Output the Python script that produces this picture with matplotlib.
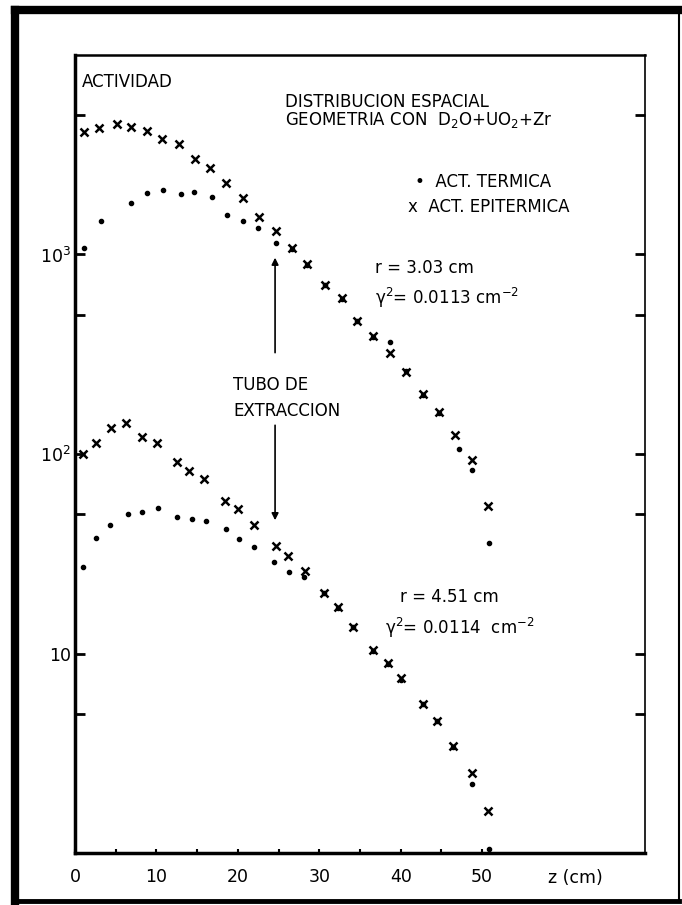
import matplotlib
matplotlib.use("Agg")
import matplotlib.pyplot as plt
from matplotlib.lines import Line2D

# upper pair of curves, r = 3.03 cm
z_epi_up = [1.1, 2.9, 5.2, 6.9, 8.8, 10.7, 12.8, 14.7, 16.6, 18.5, 20.6, 22.6, 24.7,
            26.6, 28.5, 30.7, 32.8, 34.6, 36.6, 38.7, 40.6, 42.7, 44.7, 46.7, 48.8, 50.7]
a_epi_up = [4110, 4310, 4510, 4350, 4160, 3790, 3580, 3010, 2720, 2280, 1920, 1540, 1310,
            1080, 896, 703, 605, 465, 390, 321, 258, 200, 163, 124, 93, 55]
z_th_up = [1.1, 3.2, 6.9, 8.8, 10.8, 13.0, 14.6, 16.8, 18.7, 20.6, 22.5, 24.7,
           26.6, 28.5, 30.7, 32.8, 34.6, 36.6, 38.7, 40.6, 42.7, 44.7, 47.1, 48.8, 50.8]
a_th_up = [1080, 1470, 1810, 2030, 2100, 2010, 2060, 1940, 1580, 1470, 1360, 1140,
           1070, 890, 700, 600, 462, 388, 364, 262, 198, 161, 106, 83, 36]

# lower pair of curves, r = 4.51 cm
z_epi_lo = [1.0, 2.6, 4.4, 6.3, 8.2, 10.1, 12.5, 14.0, 15.8, 18.4, 20.0, 22.0, 24.7,
            26.1, 28.2, 30.6, 32.3, 34.1, 36.6, 38.4, 40.0, 42.7, 44.4, 46.4, 48.7, 50.7]
a_epi_lo = [100, 114, 135, 143, 122, 114, 91, 82, 75, 58, 53, 44, 34.6,
            30.8, 25.9, 20.1, 17.1, 13.6, 10.4, 8.96, 7.53, 5.58, 4.59, 3.44, 2.52, 1.63]
z_th_lo = [1.0, 2.6, 4.3, 6.5, 8.2, 10.2, 12.5, 14.4, 16.1, 18.5, 20.2, 22.0, 24.4,
           26.3, 28.1, 30.6, 32.3, 34.1, 36.6, 38.4, 40.0, 42.7, 44.4, 46.4, 48.8, 50.8]
a_th_lo = [27.2, 37.9, 44, 50, 51.2, 53.6, 48.3, 47.2, 46.1, 42, 37.5, 34.2, 28.8,
           25.6, 24.2, 20.0, 17.0, 13.5, 10.3, 8.9, 7.4, 5.6, 4.6, 3.4, 2.22, 1.05]

x_ticks = [0, 10, 20, 30, 40, 50]
x_minor = [5, 15, 25, 35, 45]
y_ticks = [1e3, 1e2, 10]
y_labels = ["$10^3$", "$10^2$", "10"]
y_minor = [5e3, 5e2, 50, 5]

W, H = 682, 905
fig = plt.figure(figsize=(W / 100, H / 100), dpi=100)
ax = fig.add_axes([75 / W, 52 / H, 570 / W, 798 / H])

for z, a in [(z_epi_up, a_epi_up), (z_epi_lo, a_epi_lo)]:
    ax.plot(z, a, ls="none", marker="x", ms=5.5, mew=1.8, color="black")
for z, a in [(z_th_up, a_th_up), (z_th_lo, a_th_lo)]:
    ax.plot(z, a, ls="none", marker="o", ms=3, color="black")

ax.set_yscale("log")
ax.set_xlim(0, 70)
ax.set_ylim(1, 1e4)
ax.set_xticks(x_ticks)
ax.set_xticks(x_minor, minor=True)
ax.set_yticks(y_ticks, y_labels)
ax.set_yticks(y_minor, minor=True)
ax.yaxis.set_minor_formatter(matplotlib.ticker.NullFormatter())
ax.tick_params(axis="x", which="both", direction="in", length=3, width=1.5,
               labelsize=12.5, pad=11, top=False)
ax.tick_params(axis="y", which="both", direction="in", length=7, width=2,
               labelsize=12.5, pad=3, right=True)
ax.spines["left"].set_linewidth(2.5)
ax.spines["bottom"].set_linewidth(2.5)
ax.spines["top"].set_linewidth(1.8)
ax.spines["right"].set_linewidth(1.2)

fs = 12
kw = dict(transform=ax.transAxes, fontsize=fs, va="center", ha="left")
ax.text(0.012, 0.966, "ACTIVIDAD", **kw)
ax.text(0.368, 0.941, "DISTRIBUCION ESPACIAL", **kw)
ax.text(0.368, 0.918, "GEOMETRIA CON  D$_2$O+UO$_2$+Zr", **kw)
ax.text(0.596, 0.841, "•  ACT. TERMICA", **kw)
ax.text(0.584, 0.810, "x  ACT. EPITERMICA", **kw)
ax.text(0.526, 0.733, "r = 3.03 cm", **kw)
ax.text(0.526, 0.695, "γ$^2$= 0.0113 cm$^{-2}$", **kw)
ax.text(0.277, 0.586, "TUBO DE", **kw)
ax.text(0.277, 0.554, "EXTRACCION", **kw)
ax.text(0.570, 0.321, "r = 4.51 cm", **kw)
ax.text(0.544, 0.282, "γ$^2$= 0.0114  cm$^{-2}$", **kw)
fig.text(575 / W, 1 - 878 / H, "z (cm)", fontsize=12.5, ha="center", va="center")

arrow = dict(arrowstyle="-|>", color="black", lw=1.2, mutation_scale=10,
             shrinkA=0, shrinkB=0)
ax.annotate("", xy=(0.351, 0.746), xytext=(0.351, 0.627),
            xycoords="axes fraction", textcoords="axes fraction", arrowprops=arrow)
ax.annotate("", xy=(0.351, 0.417), xytext=(0.351, 0.536),
            xycoords="axes fraction", textcoords="axes fraction", arrowprops=arrow)

# scan border around the whole picture
def px(x, y):
    return x / W, 1 - y / H

for (x0, y0), (x1, y1), lw in [((15, 10), (679, 10), 6), ((15, 10), (15, 901), 6),
                               ((15, 901), (679, 901), 3.5), ((679, 10), (679, 901), 1.5)]:
    (a0, b0), (a1, b1) = px(x0, y0), px(x1, y1)
    fig.add_artist(Line2D([a0, a1], [b0, b1], color="black", lw=lw,
                          solid_capstyle="projecting"))

fig.savefig("out.png", dpi=100)
